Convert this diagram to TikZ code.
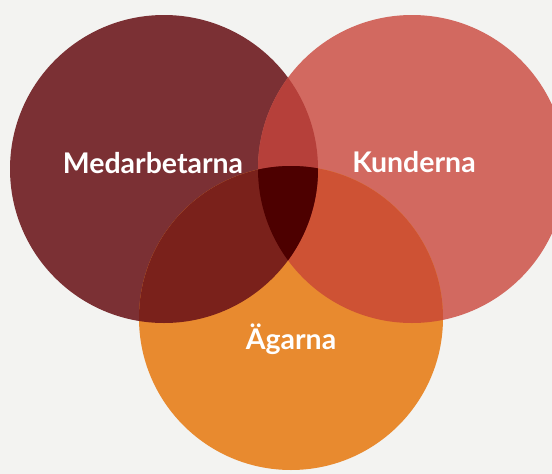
\documentclass[tikz,border=0pt]{standalone}
\usepackage{fontspec}
\setmainfont{Lato}
\usepackage{tikz}
\definecolor{bgcol}{HTML}{F3F3F1}
\definecolor{medcol}{HTML}{7B3034}
\definecolor{kundcol}{HTML}{D26960}
\definecolor{aegcol}{HTML}{E88A2F}
\definecolor{medkund}{HTML}{B6403A}
\definecolor{medaeg}{HTML}{7A211B}
\definecolor{kundaeg}{HTML}{CE5234}
\definecolor{allcol}{HTML}{4D0000}
\begin{document}
\begin{tikzpicture}[x=0.02cm,y=-0.02cm]
        \useasboundingbox (0,0) rectangle (552,474);
        \fill[color=bgcol] (0,0) rectangle (552,474);
        \fill[color=medcol] (164,169) circle (154);
        \fill[color=kundcol] (412,169) circle (154);
        \fill[color=aegcol] (291,318) circle (152);
        \begin{scope}
          \clip (412,169) circle (154);
          \fill[color=kundaeg] (291,318) circle (152);
        \end{scope}
        \begin{scope}
          \clip (164,169) circle (154);
          \fill[color=medkund] (412,169) circle (154);
          \fill[color=medaeg] (291,318) circle (152);
          \clip (412,169) circle (154);
          \fill[color=allcol] (291,318) circle (152);
        \end{scope}
        \node[color=white, font=\bfseries\fontsize{16.2}{18}\selectfont] (med) at (153,163) {Medarbetarna};
        \node[color=white, font=\bfseries\fontsize{16.2}{18}\selectfont] (kund) at (414,162) {Kunderna};
        \node[color=white, font=\bfseries\fontsize{16.2}{18}\selectfont] (aeg) at (291,339) {Ägarna};
      \end{tikzpicture}
\end{document}
